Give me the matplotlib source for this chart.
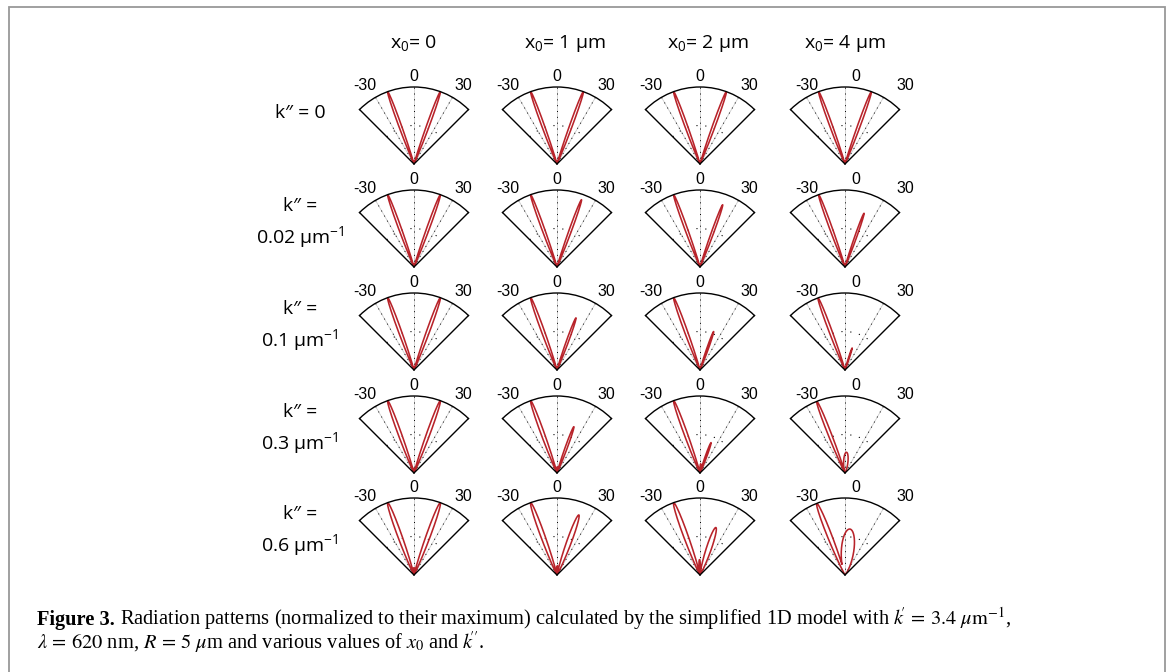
import numpy as np
import matplotlib
matplotlib.use("Agg")
import matplotlib.pyplot as plt
from matplotlib import transforms
from matplotlib.patches import Rectangle

# ── data ─────────────────────────────────────────────────────────────────────────
# column / row headings
col_titles = [r"$\mathregular{x_0}$= 0", r"$\mathregular{x_0}$= 1 μm",
              r"$\mathregular{x_0}$= 2 μm", r"$\mathregular{x_0}$= 4 μm"]
row_titles = ["k″ = 0",
              "k″ =\n0.02 μm$^{\\mathregular{-1}}$",
              "k″ =\n0.1 μm$^{\\mathregular{-1}}$",
              "k″ =\n0.3 μm$^{\\mathregular{-1}}$",
              "k″ =\n0.6 μm$^{\\mathregular{-1}}$"]
theta_ticks = [-30, 0, 30]

# each lobe of a radiation pattern: (direction [deg], normalized peak, angular width [deg])
lobes_k0 = [
    [(-20, 1.0, 1.7), (20, 1.0, 1.7)],
    [(-20, 1.0, 1.7), (20, 1.0, 1.7)],
    [(-20, 1.0, 1.7), (20, 1.0, 1.7)],
    [(-20, 1.0, 1.7), (20, 1.0, 1.7)],
]
lobes_k002 = [
    [(-20, 1.0, 1.7), (20, 1.0, 1.7)],
    [(-20, 1.0, 1.7), (20, 0.93, 1.7)],
    [(-20, 1.0, 1.7), (20, 0.86, 1.7)],
    [(-20, 1.0, 1.7), (19.5, 0.74, 1.7)],
]
lobes_k01 = [
    [(-20, 1.0, 1.9), (20, 1.0, 1.9)],
    [(-20, 1.0, 1.9), (20, 0.72, 1.9)],
    [(-20, 1.0, 1.9), (19.5, 0.53, 1.9)],
    [(-20.5, 1.0, 1.9), (18, 0.30, 1.9)],
]
lobes_k03 = [
    [(-20, 1.0, 2.1), (20, 1.0, 2.1), (0, 0.06, 8)],
    [(-20, 1.0, 2.1), (20, 0.64, 2.1), (2, 0.08, 5)],
    [(-20, 1.0, 2.1), (20, 0.42, 2.3), (4, 0.12, 4)],
    [(-21.5, 1.0, 2.1), (4, 0.27, 10)],
]
lobes_k06 = [
    [(-20, 1.0, 2.6), (20, 1.0, 2.6), (0, 0.095, 10)],
    [(-20, 1.0, 2.6), (20, 0.83, 3.5), (2, 0.12, 6)],
    [(-20, 1.0, 2.8), (18.5, 0.65, 4.8), (-2, 0.2, 4)],
    [(-21.5, 1.0, 2.8), (6, 0.6, 13)],
]
pattern_rows = [lobes_k0, lobes_k002, lobes_k01, lobes_k03, lobes_k06]

caption_head = "Figure 3."
caption_line1 = (r" Radiation patterns (normalized to their maximum) calculated by the "
                 r"simplified 1D model with $k\!' \,=\, 3.4\ \mu\mathrm{m}^{-1}$,")
caption_line2 = (r"$\lambda \,=\, 620$ nm, $R \,=\, 5$ $\mu$m and various values of "
                 r"$x_0$ and $k\!''$.")

# ── layout (pixels) ──────────────────────────────────────────────────────────────
W, H, DPI = 1169, 672, 100
APEX_X = [414, 557, 700, 845]
APEX_Y = [164, 267, 370, 473, 575]
RADIUS = 77
LABEL_SHIFT = [0, 0, 0, 11]    # last column's angle labels sit a bit to the right
RED = "#b8232a"
SANS = ["Open Sans", "DejaVu Sans"]

fig = plt.figure(figsize=(W / DPI, H / DPI), dpi=DPI)
fig.patch.set_facecolor("white")

# grey frame round the figure (bottom edge runs off the page)
fig.patches.append(Rectangle((9 / W, -0.05), (1165 - 9) / W, (H - 7) / H + 0.05,
                             transform=fig.transFigure, fill=False,
                             edgecolor="0.6", linewidth=1.3))

theta = np.linspace(-45, 45, 4501)


def pattern(lobes):
    r = np.zeros_like(theta)
    for ang, peak, width in lobes:
        r = np.maximum(r, peak * np.exp(-0.5 * ((theta - ang) / width) ** 2))
    return r


def wedge(ax):
    ax.set_theta_zero_location("N")
    ax.set_theta_direction(-1)
    ax.set_thetamin(-45)
    ax.set_thetamax(45)
    ax.set_ylim(0, 1)
    ax.set_thetagrids(theta_ticks, labels=["", "", ""])
    ax.set_rgrids([0.5], labels=[""])
    ax.xaxis.grid(True, color="0.8", linewidth=0.6, linestyle="-")
    ax.yaxis.grid(True, color="k", linewidth=0.8, linestyle=(0, (1, 7)))
    ax.vlines(np.deg2rad(theta_ticks), 0, 1, colors="k", linewidth=0.7,
              linestyles=[(0, (1, 5))])
    ax.tick_params(length=0, pad=0)
    for sp in ax.spines.values():
        sp.set_linewidth(1.0)


# the polar wedge is centred in a square box of side sqrt(2)*R
side = RADIUS * np.sqrt(2)
lift = (side - RADIUS) / 2
for ri, row in enumerate(pattern_rows):
    for ci, lobes in enumerate(row):
        ax = fig.add_axes([(APEX_X[ci] - side / 2) / W,
                           (H - APEX_Y[ri] - lift) / H,
                           side / W, side / H],
                          projection="polar")
        wedge(ax)
        ax.plot(np.deg2rad(theta), pattern(lobes), color=RED, linewidth=1.15,
                solid_joinstyle="round")
        tr = transforms.offset_copy(ax.transData, fig=fig, x=LABEL_SHIFT[ci], y=0,
                                    units="dots")
        for a, rr in zip(theta_ticks, [1.2, 1.14, 1.2]):
            ax.text(np.deg2rad(a * 1.08), rr, str(a), transform=tr, ha="center",
                    va="center", fontsize=11.5, family="Liberation Sans", clip_on=False)

# column and row headings
for ci, t in enumerate(col_titles):
    fig.text((APEX_X[ci] + (8 if ci in (1, 2) else 0)) / W, 1 - 43 / H, t,
             ha="center", va="center", fontsize=14, family=SANS)
for ri, t in enumerate(row_titles):
    y = APEX_Y[ri] - (51 if ri == 0 else 43)
    fig.text(300 / W, 1 - y / H, t, ha="center", va="center", fontsize=14,
             family=SANS, linespacing=1.45)

# caption
cap_kw = dict(fontsize=14.7, family="Liberation Serif", math_fontfamily="stix",
              va="baseline", ha="left")
head = fig.text(37 / W, 1 - 625 / H, caption_head, fontweight="bold", **cap_kw)
fig.canvas.draw()
bb = head.get_window_extent(renderer=fig.canvas.get_renderer())
fig.text(bb.x1 / W, 1 - 625 / H, caption_line1, **cap_kw)
fig.text(37 / W, 1 - 649 / H, caption_line2, **cap_kw)

fig.savefig("out.png", dpi=DPI, facecolor="white")
